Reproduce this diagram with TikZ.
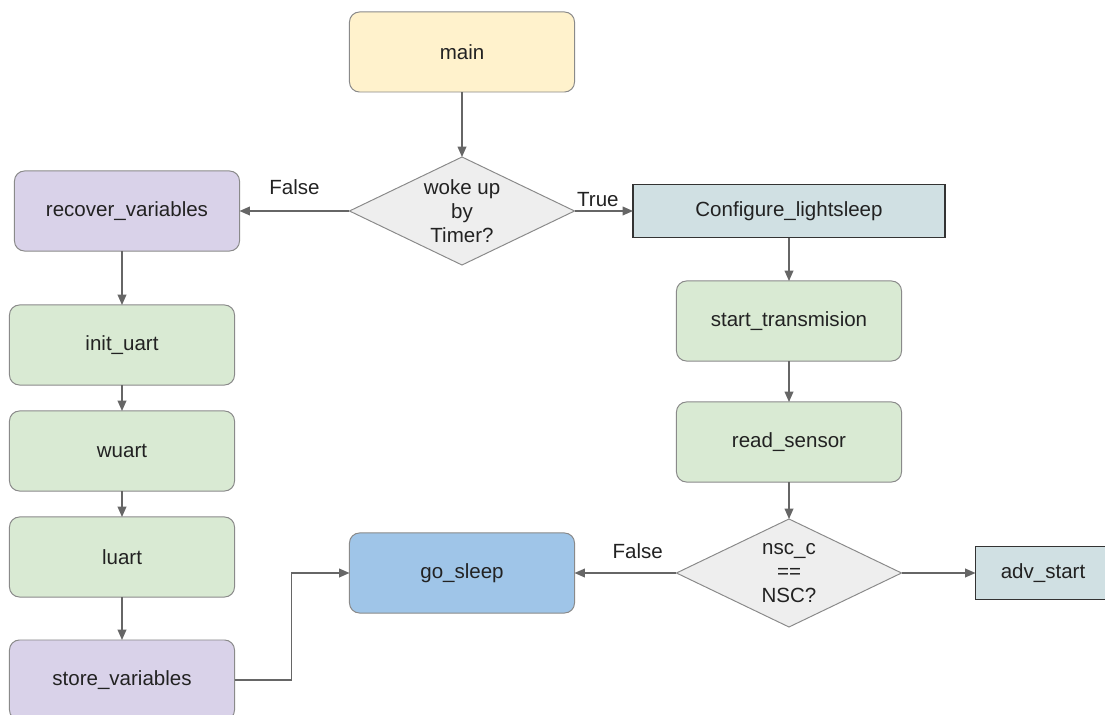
\documentclass[tikz,border=0pt]{standalone}
\usepackage{fontspec}
\setmainfont{Liberation Sans}
\usetikzlibrary{shapes.geometric,arrows.meta}
\definecolor{mainfill}{HTML}{FFF2CC}
\definecolor{varfill}{HTML}{D9D2E9}
\definecolor{uartfill}{HTML}{D9EAD3}
\definecolor{sleepfill}{HTML}{9FC5E8}
\definecolor{cfgfill}{HTML}{D0E0E3}
\definecolor{decfill}{HTML}{EEEEEE}
\definecolor{edgegray}{HTML}{666666}
\definecolor{boxgray}{HTML}{8A8A8A}
\definecolor{txtgray}{HTML}{222222}
\begin{document}
\begin{tikzpicture}[x=0.025cm,y=-0.025cm,inner sep=0pt,outer sep=0pt,
font=\fontsize{14.6}{17.2}\selectfont,text=txtgray,
>={Triangle[length=0.26cm,width=0.22cm]},
flowbox/.style={draw=boxgray,line width=0.7pt,rounded corners=0.25cm,minimum width=5.625cm,minimum height=2cm},
cfgbox/.style={draw=black!80,line width=1pt,fill=cfgfill,minimum height=1.33cm},
decision/.style={draw=boxgray,line width=0.7pt,fill=decfill,diamond,aspect=2.1,minimum width=5.625cm,minimum height=2.7cm,align=center},
flow/.style={draw=edgegray,line width=0.9pt,->}]
\useasboundingbox (0,0) rectangle (1105,715);

\draw (462,52) node[flowbox,fill=mainfill] (main) {main};
\draw (462,211) node[decision] (timer) {woke up\\by\\Timer?};
\draw (127,211) node[flowbox,fill=varfill] (recover) {recover\_variables};
\draw (789,211) node[cfgbox,minimum width=7.8cm] (config) {Configure\_lightsleep};

% left branch
\draw (122,345) node[flowbox,fill=uartfill] (init) {init\_uart};
\draw (122,451) node[flowbox,fill=uartfill] (wuart) {wuart};
\draw (122,557) node[flowbox,fill=uartfill] (luart) {luart};
\draw (122,680) node[flowbox,fill=varfill] (store) {store\_variables};

% right branch
\draw (789,321) node[flowbox,fill=uartfill] (start) {start\_transmision};
\draw (789,442) node[flowbox,fill=uartfill] (sensor) {read\_sensor};
\draw (789,573) node[decision] (nsc) {nsc\_c\\==\\NSC?};
\draw (462,573) node[flowbox,fill=sleepfill] (gosleep) {go\_sleep};
\draw (1043,573) node[cfgbox,minimum width=3.375cm] (adv) {adv\_start};

\draw[flow] (main) -- (timer);
\draw[flow] (timer.west) -- node[above=0.41cm] {False} (recover.east);
\draw[flow] (timer.east) -- node[pos=0.4,above=0.11cm] {True} (config.west);
\draw[flow] (config) -- (start);
\draw[flow] (start) -- (sensor);
\draw[flow] (sensor) -- (nsc);
\draw[flow] (nsc.west) -- node[pos=0.38,above=0.36cm] {False} (gosleep.east);
\draw[flow] (nsc.east) -- (adv.west);

\draw[flow] (recover.south -| init.north) -- (init);
\draw[flow] (init) -- (wuart);
\draw[flow] (wuart) -- (luart);
\draw[flow] (luart) -- (store);
\draw[flow] (store.east) -- ++(57,0) |- (gosleep.west);
\end{tikzpicture}
\end{document}
